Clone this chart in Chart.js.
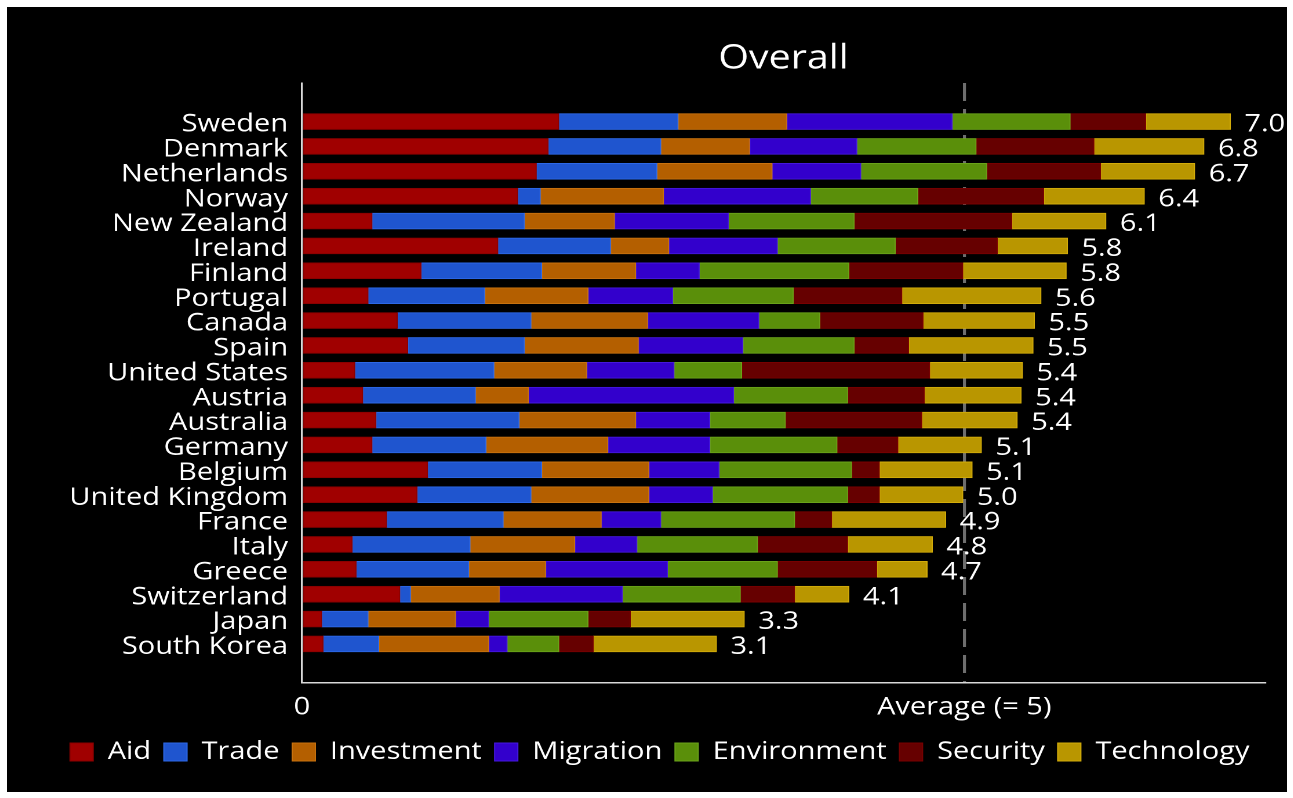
<!DOCTYPE html>
<html>
<head>
<meta charset="utf-8">
<script src="https://cdn.jsdelivr.net/npm/chart.js@4/dist/chart.umd.min.js"></script>
<style>
  html, body { margin: 0; padding: 0; background: #ffffff; }
  #frame { position: absolute; left: 7px; top: 7px; width: 1280px; height: 785px; background: #000000; overflow: hidden; }
  /* the chart is laid out in a narrower box and widened, giving the broad lettering of the printed figure */
  #wrap { position: absolute; left: 0; top: 0; width: 1104px; height: 785px; transform: scaleX(1.15942); transform-origin: 0 0; }
</style>
</head>
<body>
<div id="frame"><div id="wrap"><canvas id="chart"></canvas></div></div>
<script>
// Countries, ranked by overall score
const countries = ['Sweden', 'Denmark', 'Netherlands', 'Norway', 'New Zealand', 'Ireland', 'Finland',
  'Portugal', 'Canada', 'Spain', 'United States', 'Austria', 'Australia', 'Germany', 'Belgium',
  'United Kingdom', 'France', 'Italy', 'Greece', 'Switzerland', 'Japan', 'South Korea'];

// Component contributions to the overall score
const aid         = [1.94, 1.86, 1.77, 1.63, 0.53, 1.48, 0.90, 0.50, 0.72, 0.80, 0.40, 0.46, 0.56, 0.53, 0.95, 0.87, 0.64, 0.38, 0.41, 0.74, 0.15, 0.16];
const trade       = [0.90, 0.85, 0.91, 0.17, 1.15, 0.85, 0.91, 0.88, 1.01, 0.88, 1.05, 0.85, 1.08, 0.86, 0.86, 0.86, 0.88, 0.89, 0.85, 0.08, 0.35, 0.42];
const investment  = [0.82, 0.67, 0.87, 0.93, 0.68, 0.44, 0.71, 0.78, 0.88, 0.86, 0.70, 0.40, 0.88, 0.92, 0.81, 0.89, 0.74, 0.79, 0.58, 0.67, 0.66, 0.83];
const migration   = [1.25, 0.81, 0.67, 1.11, 0.86, 0.82, 0.48, 0.64, 0.84, 0.79, 0.66, 1.55, 0.56, 0.77, 0.53, 0.48, 0.45, 0.47, 0.92, 0.93, 0.25, 0.14];
const environment = [0.89, 0.90, 0.95, 0.81, 0.95, 0.89, 1.13, 0.91, 0.46, 0.84, 0.51, 0.86, 0.57, 0.96, 1.00, 1.02, 1.01, 0.91, 0.83, 0.89, 0.75, 0.39];
const security    = [0.57, 0.89, 0.86, 0.95, 1.19, 0.77, 0.86, 0.82, 0.78, 0.41, 1.42, 0.58, 1.03, 0.46, 0.21, 0.24, 0.28, 0.68, 0.75, 0.41, 0.32, 0.26];
const technology  = [0.64, 0.83, 0.71, 0.76, 0.71, 0.53, 0.78, 1.05, 0.84, 0.94, 0.70, 0.73, 0.72, 0.63, 0.70, 0.63, 0.86, 0.64, 0.38, 0.41, 0.86, 0.93];

const componentNames = ['Aid', 'Trade', 'Investment', 'Migration', 'Environment', 'Security', 'Technology'];
const componentValues = [aid, trade, investment, migration, environment, security, technology];

// Reference mark on the value axis
const averageScore = 5;
const averageLabel = 'Average (= 5)';

const fillColors = ['#a00000', '#1f55cf', '#b45f00', '#3300cc', '#5a8f0a', '#660000', '#b99600'];
const edgeColors = ['#8a0000', '#2d68e6', '#c8720f', '#4518dc', '#6aa31a', '#780000', '#d3ac0a'];

// Overall score of each country = sum of its components
const totals = countries.map((_, i) =>
  Math.round(componentValues.reduce((s, arr) => s + arr[i], 0) * 100) / 100);

Chart.defaults.font.family = "'Open Sans', sans-serif";
Chart.defaults.color = '#ffffff';

// Writes the overall score just past the end of each bar
const totalLabels = {
  id: 'totalLabels',
  afterDatasetsDraw(chart) {
    const { ctx, scales: { x, y } } = chart;
    ctx.save();
    ctx.font = "25px 'Open Sans', sans-serif";
    ctx.fillStyle = '#ffffff';
    ctx.textAlign = 'left';
    ctx.textBaseline = 'middle';
    totals.forEach((t, i) => {
      ctx.fillText(t.toFixed(1), x.getPixelForValue(t) + 12, y.getPixelForValue(i) + 3);
    });
    ctx.restore();
  }
};

new Chart(document.getElementById('chart'), {
  type: 'bar',
  data: {
    datasets: componentNames.map((name, k) => ({
      label: name,
      data: componentValues[k].map((v, i) => ({ x: v, y: i })),
      backgroundColor: fillColors[k],
      borderColor: edgeColors[k],
      borderWidth: 1,
      borderSkipped: false,
      barThickness: 16
    }))
  },
  options: {
    indexAxis: 'y',
    responsive: true,
    maintainAspectRatio: false,
    devicePixelRatio: 2,
    animation: false,
    layout: { padding: { top: 31.6, bottom: 17.5, left: 41, right: 19 } },
    scales: {
      x: {
        type: 'linear',
        stacked: true,
        min: 0,
        max: 7.27,
        afterBuildTicks(scale) { scale.ticks = [{ value: 0 }, { value: averageScore }]; },
        afterFit(scale) { scale.height = 46; },
        ticks: {
          autoSkip: false,
          maxRotation: 0,
          padding: 10,
          color: '#ffffff',
          font: { size: 25 },
          callback: (v) => (v === averageScore ? averageLabel : String(v))
        },
        grid: {
          drawTicks: false,
          lineWidth: 2.6,
          color: (c) => (c.tick && c.tick.value === averageScore ? '#6e6e6e' : 'rgba(0,0,0,0)')
        },
        border: { display: true, color: '#d9d9d9', width: 1.5, dash: [18, 8] }
      },
      y: {
        type: 'linear',
        stacked: true,
        reverse: true,
        offset: false,
        min: -1.55,
        max: 22.55,
        afterBuildTicks(scale) { scale.ticks = countries.map((_, i) => ({ value: i })); },
        afterFit(scale) { scale.width = 213.4; },
        ticks: {
          autoSkip: false,
          padding: 12,
          labelOffset: 3,
          color: '#ffffff',
          font: { size: 25 },
          callback: (v) => countries[v]
        },
        grid: { display: false, drawTicks: false, offset: false },
        border: { display: true, color: '#d9d9d9', width: 1.5 }
      }
    },
    plugins: {
      title: {
        display: true,
        text: 'Overall',
        color: '#ffffff',
        fullSize: false,
        font: { size: 34, weight: 'normal' },
        padding: { top: 0, bottom: 3.6 }
      },
      legend: {
        position: 'bottom',
        labels: {
          color: '#ffffff',
          font: { size: 25 },
          boxWidth: 20,
          boxHeight: 18,
          padding: 11
        }
      },
      tooltip: { enabled: false }
    }
  },
  plugins: [totalLabels]
});
</script>
</body>
</html>
